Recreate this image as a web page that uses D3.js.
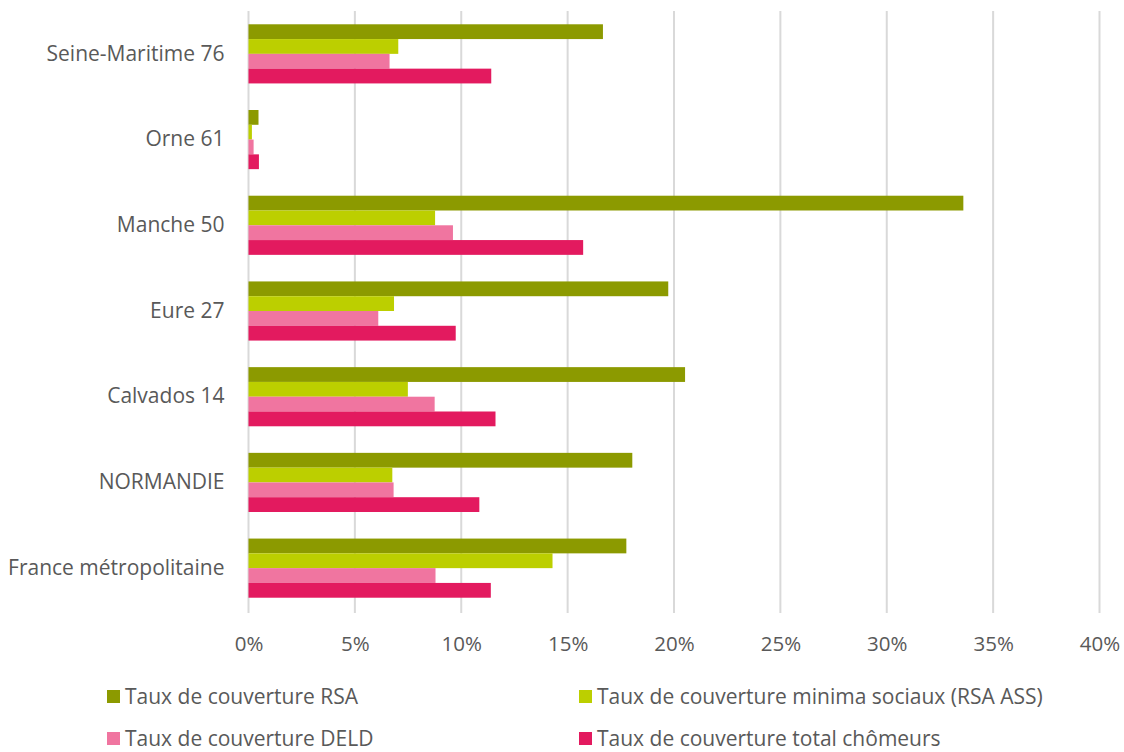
<!DOCTYPE html>
<html>
<head>
<meta charset="utf-8">
<script src="https://cdn.jsdelivr.net/npm/d3@7"></script>
<style>
  html, body { margin: 0; padding: 0; background: #ffffff; }
  svg { display: block; }
  text { font-family: "Open Sans", "DejaVu Sans", sans-serif; fill: #595959; }
</style>
</head>
<body>
<svg id="chart" width="1124" height="752"></svg>
<script>
// Territories, top to bottom
const categories = [
  "Seine-Maritime 76",
  "Orne 61",
  "Manche 50",
  "Eure 27",
  "Calvados 14",
  "NORMANDIE",
  "France métropolitaine"
];

// Series names (legend order = bar order within a group)
const seriesNames = [
  "Taux de couverture RSA",
  "Taux de couverture minima sociaux (RSA ASS)",
  "Taux de couverture DELD",
  "Taux de couverture total chômeurs"
];

// Coverage rates in %, same order as categories
const tauxRSA      = [16.66, 0.47, 33.60, 19.73, 20.52, 18.04, 17.76];
const tauxMinima   = [7.04, 0.16, 8.77, 6.84, 7.49, 6.76, 14.29];
const tauxDELD     = [6.63, 0.24, 9.61, 6.10, 8.75, 6.82, 8.79];
const tauxChomeurs = [11.41, 0.49, 15.73, 9.74, 11.61, 10.85, 11.39];

const xTicks = [0, 5, 10, 15, 20, 25, 30, 35, 40];

const colors = ["#8c9a00", "#bccf00", "#f075a0", "#e31a5f"];

const seriesValues = [tauxRSA, tauxMinima, tauxDELD, tauxChomeurs];

const svg = d3.select("#chart");

const plot = { left: 248.5, right: 1099.5, top: 11, bottom: 611 };

const x = d3.scaleLinear().domain([0, 40]).range([plot.left, plot.right]);

const y = d3.scaleBand()
  .domain(categories)
  .range([plot.top, plot.bottom])
  .paddingInner(0.31)
  .paddingOuter(0.155);

const ySeries = d3.scaleBand()
  .domain(d3.range(seriesNames.length))
  .range([0, y.bandwidth()]);

// Vertical gridlines
svg.append("g")
  .selectAll("line")
  .data(xTicks)
  .join("line")
  .attr("x1", d => x(d))
  .attr("x2", d => x(d))
  .attr("y1", plot.top)
  .attr("y2", plot.bottom + 2)
  .attr("stroke", "#d9d9d9")
  .attr("stroke-width", 2);

// Bars
const groups = svg.append("g")
  .selectAll("g")
  .data(categories)
  .join("g")
  .attr("transform", d => `translate(0,${y(d)})`);

groups.selectAll("rect")
  .data((c, i) => seriesValues.map((vals, s) => ({ s, v: vals[i] })))
  .join("rect")
  .attr("x", x(0))
  .attr("y", d => ySeries(d.s))
  .attr("width", d => x(d.v) - x(0))
  .attr("height", ySeries.bandwidth())
  .attr("fill", d => colors[d.s]);

// X axis labels
const xAxis = d3.axisBottom(x)
  .tickValues(xTicks)
  .tickFormat(d => d + "%")
  .tickSize(0)
  .tickPadding(0);

const gx = svg.append("g")
  .attr("transform", `translate(0,${plot.bottom + 25})`)
  .call(xAxis);
gx.select(".domain").remove();
gx.selectAll("text")
  .attr("font-size", 20.5)
  .attr("dy", "0.71em")
  .style("font-family", '"Open Sans", sans-serif')
  .attr("fill", "#595959");

// Y axis labels
const yAxis = d3.axisLeft(y).tickSize(0).tickPadding(24);
const gy = svg.append("g")
  .attr("transform", `translate(${plot.left},0)`)
  .call(yAxis);
gy.select(".domain").remove();
gy.selectAll("text")
  .attr("font-size", 21)
  .style("font-family", '"Open Sans", sans-serif')
  .attr("fill", "#595959");

// Legend: two columns, two rows (y = text baseline)
const legendPos = [
  { x: 107, y: 704 },
  { x: 579, y: 704 },
  { x: 107, y: 746 },
  { x: 579, y: 746 }
];

const legend = svg.append("g")
  .selectAll("g")
  .data(seriesNames)
  .join("g")
  .attr("transform", (d, i) => `translate(${legendPos[i].x},${legendPos[i].y})`);

legend.append("rect")
  .attr("x", 0)
  .attr("y", -14)
  .attr("width", 13)
  .attr("height", 13)
  .attr("fill", (d, i) => colors[i]);

legend.append("text")
  .attr("x", 18)
  .attr("y", 0)
  .attr("font-size", 21)
  .text(d => d);
</script>
</body>
</html>
